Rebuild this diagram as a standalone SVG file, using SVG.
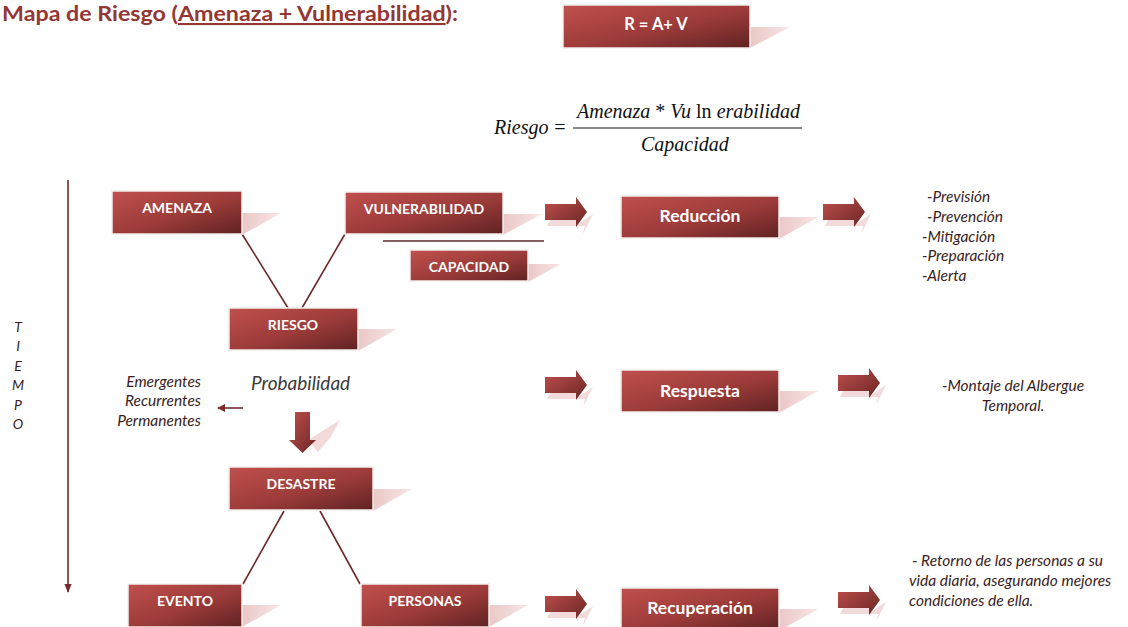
<svg xmlns="http://www.w3.org/2000/svg" width="1128" height="627" viewBox="0 0 1128 627">
<defs>
<linearGradient id="boxg" x1="0" y1="0" x2="1" y2="1">
<stop offset="0" stop-color="#c0504d"/>
<stop offset="0.55" stop-color="#9b3b39"/>
<stop offset="1" stop-color="#602222"/>
</linearGradient>
<linearGradient id="arrg" x1="0" y1="0" x2="1" y2="1">
<stop offset="0" stop-color="#c0504d"/>
<stop offset="1" stop-color="#6a2625"/>
</linearGradient>
<linearGradient id="shg" x1="0" y1="0" x2="1" y2="0">
<stop offset="0" stop-color="#e9c6c5"/>
<stop offset="1" stop-color="#f7e6e6"/>
</linearGradient>
<marker id="ah" viewBox="0 0 10 10" refX="9" refY="5" markerWidth="8" markerHeight="8" orient="auto" markerUnits="userSpaceOnUse">
<path d="M0,0 L10,5 L0,10 Z" fill="#7a2a2a"/>
</marker>
<marker id="ah2" viewBox="0 0 10 10" refX="9" refY="5" markerWidth="9" markerHeight="9" orient="auto" markerUnits="userSpaceOnUse">
<path d="M0,1 L10,5 L0,9 Z" fill="#7a2a2a"/>
</marker>
<path id="barr" d="M0,-8 H31 V-15 L42,0 L31,15 V8 H0 Z"/>
<path id="barrsh" d="M6,6 H36 L30,14 L48,2 L38,22 L40,14 H2 Z"/>
</defs>
<style>
.box{fill:url(#boxg);stroke:#f4eded;stroke-width:1.5}
.sh{fill:url(#shg)}
.bt{font-family:Lato,"Open Sans",sans-serif;font-weight:bold;fill:#ffffff;text-anchor:middle;font-size:14px}
.bt2{font-size:17.5px}
.bt3{font-size:16.5px}
.ln{stroke:#6e2a2a;stroke-width:1.6;fill:none}
.it{font-family:Lato,"Open Sans",sans-serif;font-style:italic;fill:#3a1d22;font-size:15.5px}
.ar{fill:url(#arrg)}
.arsh{fill:#f2dada}
.fm{font-family:"Liberation Serif",serif;font-style:italic;font-size:20px;fill:#111}
</style>
<rect width="1128" height="627" fill="#ffffff"/>

<g id="title">
<text x="2" y="21" font-family="Lato,'Open Sans',sans-serif" font-weight="bold" font-size="21px" fill="#943634" textLength="456" lengthAdjust="spacingAndGlyphs">Mapa de Riesgo (<tspan text-decoration="underline">Amenaza + Vulnerabilidad</tspan>):</text>
</g>

<g id="node-rav">
<polygon class="sh" points="748,27 790,27 750,48"/>
<rect class="box" x="563" y="5" width="187" height="43"/>
<text class="bt bt3" x="656" y="30">R = A+ V</text>
</g>

<g id="formula">
<text class="fm" x="494" y="134">Riesgo</text>
<text class="fm" x="553" y="134" font-style="normal">=</text>
<text class="fm" x="577" y="118">Amenaza<tspan font-style="normal"> * </tspan>Vu<tspan font-style="normal"> ln </tspan>erabilidad</text>
<line x1="573" y1="128" x2="802" y2="128" stroke="#111" stroke-width="1.2"/>
<text class="fm" x="641" y="151">Capacidad</text>
</g>

<g id="connectors">
<line class="ln" x1="68" y1="180" x2="68" y2="592" marker-end="url(#ah2)"/>
<line class="ln" x1="242" y1="234" x2="288" y2="308"/>
<line class="ln" x1="345" y1="234" x2="302" y2="308"/>
<line class="ln" x1="284" y1="511" x2="243" y2="584"/>
<line class="ln" x1="320" y1="511" x2="360" y2="584"/>
<line x1="383" y1="241" x2="544" y2="241" stroke="#5a2a2a" stroke-width="1.3"/>
<line class="ln" x1="243" y1="408" x2="218" y2="408" marker-end="url(#ah)"/>
<g>
<polygon class="arsh" points="308,440 340,420 330,438 318,452"/>
<path class="ar" d="M295,412 H310 V440 H316 L302.5,453 L289,440 H295 Z"/>
</g>
<g transform="translate(545,212)"><use href="#barrsh" class="arsh"/><use href="#barr" class="ar"/></g>
<g transform="translate(823,212)"><use href="#barrsh" class="arsh"/><use href="#barr" class="ar"/></g>
<g transform="translate(545,385)"><use href="#barrsh" class="arsh"/><use href="#barr" class="ar"/></g>
<g transform="translate(838,383)"><use href="#barrsh" class="arsh"/><use href="#barr" class="ar"/></g>
<g transform="translate(545,604)"><use href="#barrsh" class="arsh"/><use href="#barr" class="ar"/></g>
<g transform="translate(838,600)"><use href="#barrsh" class="arsh"/><use href="#barr" class="ar"/></g>
</g>

<g id="node-amenaza">
<polygon class="sh" points="240,213 281,213 242,235"/>
<rect class="box" x="112" y="191" width="130" height="43"/>
<text class="bt" x="177" y="213">AMENAZA</text>
</g>
<g id="node-vulnerabilidad">
<polygon class="sh" points="501,214 542,214 503,235"/>
<rect class="box" x="345" y="192" width="158" height="42"/>
<text class="bt" x="424" y="214">VULNERABILIDAD</text>
</g>
<g id="node-capacidad">
<polygon class="sh" points="526,264 561,264 528,282"/>
<rect class="box" x="410" y="250" width="118" height="31"/>
<text class="bt" x="469" y="272">CAPACIDAD</text>
</g>
<g id="node-riesgo">
<polygon class="sh" points="356,329 397,329 358,351"/>
<rect class="box" x="229" y="308" width="129" height="42"/>
<text class="bt" x="293" y="330">RIESGO</text>
</g>
<g id="node-desastre">
<polygon class="sh" points="371,489 412,489 373,511"/>
<rect class="box" x="229" y="467" width="144" height="43"/>
<text class="bt" x="301" y="489">DESASTRE</text>
</g>
<g id="node-evento">
<polygon class="sh" points="240,605 281,605 242,627"/>
<rect class="box" x="128" y="584" width="114" height="43"/>
<text class="bt" x="185" y="606">EVENTO</text>
</g>
<g id="node-personas">
<polygon class="sh" points="487,605 528,605 489,627"/>
<rect class="box" x="361" y="584" width="128" height="43"/>
<text class="bt" x="425" y="606">PERSONAS</text>
</g>
<g id="node-reduccion">
<polygon class="sh" points="777,217 818,217 779,239"/>
<rect class="box" x="621" y="196" width="158" height="42"/>
<text class="bt bt2" x="700" y="222">Reducción</text>
</g>
<g id="node-respuesta">
<polygon class="sh" points="777,391 818,391 779,413"/>
<rect class="box" x="621" y="370" width="158" height="42"/>
<text class="bt bt2" x="700" y="397">Respuesta</text>
</g>
<g id="node-recuperacion">
<polygon class="sh" points="777,609 818,609 779,631"/>
<rect class="box" x="621" y="588" width="158" height="42"/>
<text class="bt bt2" x="700" y="614">Recuperación</text>
</g>

<g id="tiempo" class="it" text-anchor="middle" style="font-size:14px">
<text x="18" y="332">T</text>
<text x="18" y="351">I</text>
<text x="18" y="371">E</text>
<text x="18" y="390">M</text>
<text x="18" y="410">P</text>
<text x="18" y="429">O</text>
</g>

<g id="labels-probabilidad">
<text x="251" y="390" font-family="Lato,'Open Sans',sans-serif" font-style="italic" font-size="19px" fill="#3a3a3a">Probabilidad</text>
<text class="it" x="201" y="387" text-anchor="end">Emergentes</text>
<text class="it" x="201" y="406" text-anchor="end">Recurrentes</text>
<text class="it" x="201" y="426" text-anchor="end">Permanentes</text>
</g>

<g id="labels-reduccion" class="it">
<text x="927" y="202">-Previsión</text>
<text x="927" y="222">-Prevención</text>
<text x="922" y="242">-Mitigación</text>
<text x="922" y="261">-Preparación</text>
<text x="922" y="281">-Alerta</text>
</g>
<g id="labels-respuesta" class="it" text-anchor="middle">
<text x="1013" y="391">-Montaje del Albergue</text>
<text x="1013" y="411">Temporal.</text>
</g>
<g id="labels-recuperacion" class="it">
<text x="912" y="566">- Retorno de las personas a su</text>
<text x="909" y="586">vida diaria, asegurando mejores</text>
<text x="909" y="606">condiciones de ella.</text>
</g>
</svg>
